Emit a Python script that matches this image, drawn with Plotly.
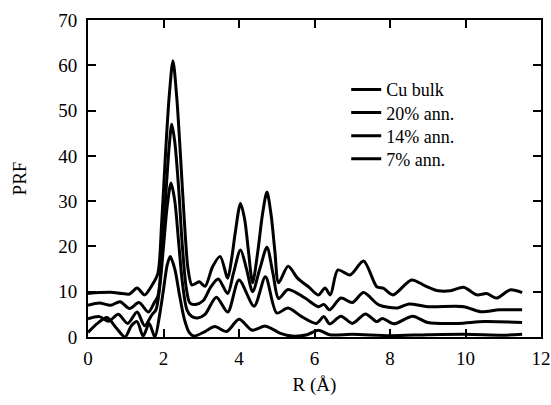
import plotly.graph_objects as go

# Cu bulk
cu_x = [0.0, 0.3, 0.6, 0.9, 1.1, 1.3, 1.5, 1.7, 1.85, 1.95, 2.05, 2.15, 2.25, 2.35, 2.45, 2.55, 2.65, 2.75,
        2.85, 2.95, 3.1, 3.3, 3.5, 3.7, 3.8, 3.9, 4.04, 4.15, 4.25, 4.36, 4.5, 4.62, 4.74, 4.85, 4.95, 5.05,
        5.3, 5.55, 5.85, 6.1, 6.28, 6.42, 6.62, 6.94, 7.3, 7.65, 7.82, 8.08, 8.57, 8.93, 9.28, 9.6, 9.95,
        10.3, 10.56, 10.83, 11.18, 11.5]
cu_y = [9.6, 9.8, 9.9, 9.6, 9.5, 10.8, 9.3, 11.5, 14, 25, 40, 53, 61, 53, 40, 26, 15, 11.5,
        11.8, 12.2, 11.2, 15.5, 17.8, 13, 17, 23, 29.5, 26, 19, 12, 19, 27, 32, 27, 19, 12,
        15.6, 13, 11, 9.3, 10.8, 9.3, 14.8, 13.7, 16.8, 11.1, 10.8, 9.3, 12.6, 11.3, 10.2, 10.2, 11,
        9.3, 9.6, 8.6, 10.4, 9.8]

# 20% ann.
a20_x = [0.0, 0.3, 0.6, 0.85, 1.1, 1.35, 1.6, 1.75, 1.85, 1.95, 2.05, 2.15, 2.22, 2.3, 2.4, 2.5, 2.6, 2.7,
         2.85, 3.05, 3.25, 3.45, 3.7, 3.85, 4.04, 4.2, 4.36, 4.55, 4.74, 4.9, 5.05, 5.3, 5.75, 6.1, 6.25,
         6.4, 6.7, 7.0, 7.3, 7.7, 8.2, 8.5, 9.0, 9.95, 10.4, 10.9, 11.5]
a20_y = [7.0, 7.5, 7.0, 7.8, 6.3, 7.6, 5.5, 7.5, 9, 17, 30, 42, 47, 43, 33, 20, 11, 7.5,
         7.2, 8, 11, 12.8, 9.6, 14, 19.2, 15, 10, 15, 19.8, 14, 8.5, 10.5, 8.6, 6.7, 7.2,
         6, 8.6, 7.6, 9.8, 7.1, 6.4, 7.3, 6.7, 6.7, 5.6, 6.0, 6.0]

# 14% ann.
a14_x = [0.0, 0.3, 0.55, 0.8, 1.05, 1.3, 1.5, 1.7, 1.8, 1.9, 2.0, 2.1, 2.2, 2.3, 2.4, 2.5, 2.62, 2.75,
         2.9, 3.1, 3.4, 3.7, 4.0, 4.4, 4.7, 5.0, 5.3, 5.66, 6.05, 6.25, 6.4, 6.7, 7.0, 7.35, 7.65, 7.8,
         8.1, 8.6, 9.0, 9.8, 10.5, 11.5]
a14_y = [4.0, 4.5, 3.5, 5.0, 3.0, 5.5, 2.5, 5.0, 6, 11, 20, 29, 34, 30, 21, 12, 6, 4.5,
         4.2, 5.0, 8.8, 5.5, 12.6, 6.8, 13.3, 5.3, 6.4, 4.5, 3, 4.5, 2.9, 4.6, 3, 5.1, 3.4, 4.1,
         2.9, 4.6, 3.2, 3.0, 3.4, 3.2]

# 7% ann.
a7_x = [0.0, 0.25, 0.5, 0.75, 0.98, 1.15, 1.3, 1.46, 1.62, 1.77, 1.9, 2.0, 2.1, 2.18, 2.3, 2.43, 2.55, 2.68,
        2.8, 3.1, 3.36, 3.67, 4.0, 4.35, 4.7, 5.1, 5.4, 5.8, 6.1, 6.4, 7.0, 8.0, 9.0, 10.0, 11.0, 11.5]
a7_y = [1.0, 3.0, 4.3, 2.0, 0.0, 2.5, 3.4, 0.2, 3.0, 0.0, 5, 10.5, 16, 17.8, 15, 9, 4, 1,
        0.2, 1.2, 2.3, 1.2, 3.9, 1.5, 2.4, 0.8, 0.2, 0.5, 1.5, 0.5, 0.6, 0.3, 0.5, 0.6, 0.4, 0.6]

names = ["Cu bulk", "20% ann.", "14% ann.", "7% ann."]
xs_all = [cu_x, a20_x, a14_x, a7_x]
ys_all = [cu_y, a20_y, a14_y, a7_y]

x_ticks = [0, 2, 4, 6, 8, 10, 12]
y_ticks = [0, 10, 20, 30, 40, 50, 60, 70]

FAMILY = "Liberation Serif, Times New Roman, serif"
font = dict(family=FAMILY, size=19, color="black")

fig = go.Figure()
legend_ids = ["legend", "legend2", "legend3", "legend4"]
for name, xs, ys, lg in zip(names, xs_all, ys_all, legend_ids):
    fig.add_trace(go.Scatter(x=xs, y=ys, name=name, mode="lines", legend=lg,
                             line=dict(color="black", width=3, shape="spline", smoothing=0.8)))

axis_common = dict(showline=True, linecolor="black", linewidth=2, mirror="ticks",
                   ticks="inside", ticklen=8, tickwidth=2, tickcolor="black",
                   showgrid=False, zeroline=False, tickfont=font, automargin=False)

# legend rows (paper y of each row centre)
row_y = [0.78, 0.707, 0.634, 0.561]
legend_layout = {}
for lg, ry in zip(legend_ids, row_y):
    legend_layout[lg] = dict(x=0.57, y=ry, xanchor="left", yanchor="middle",
                             bgcolor="rgba(0,0,0,0)",
                             font=dict(family=FAMILY, size=18, color="black"))

fig.update_layout(
    width=551, height=405,
    margin=dict(l=88, r=10, t=20, b=68),
    paper_bgcolor="white", plot_bgcolor="white",
    font=font,
    xaxis=dict(range=[0, 12], tickvals=x_ticks, ticklabelstandoff=3,
               title=dict(text="R (Å)", font=font, standoff=10), **axis_common),
    yaxis=dict(range=[0, 70], tickvals=y_ticks, ticklabelstandoff=5,
               title=dict(text="PRF", font=font, standoff=27), **axis_common),
    showlegend=True,
    **legend_layout,
)

fig.write_html("out.html",
               config={"displayModeBar": False},
               post_script="document.body.style.margin='0';document.body.style.padding='0';")
